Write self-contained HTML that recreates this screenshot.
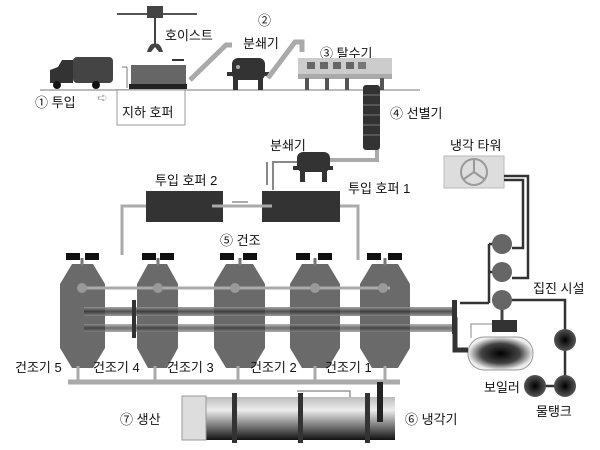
<!DOCTYPE html>
<html><head><meta charset="utf-8"><style>
html,body{margin:0;padding:0;background:#fff;width:600px;height:450px;overflow:hidden}
svg text{font-family:"Liberation Sans","Noto Sans CJK KR",sans-serif;font-size:13px;fill:#111}
</style></head><body>
<svg width="600" height="450" viewBox="0 0 600 450" xmlns="http://www.w3.org/2000/svg">
<defs>
<radialGradient id="boil" cx="0.5" cy="0.5" r="0.5"><stop offset="0" stop-color="#000"/><stop offset="0.6" stop-color="#444"/><stop offset="1" stop-color="#eee"/></radialGradient>
<radialGradient id="bc" cx="0.5" cy="0.5" r="0.5"><stop offset="0" stop-color="#000"/><stop offset="1" stop-color="#555"/></radialGradient>
<linearGradient id="cyl" x1="0" y1="0" x2="0" y2="1"><stop offset="0" stop-color="#bbb"/><stop offset="0.3" stop-color="#eee"/><stop offset="1" stop-color="#111"/></linearGradient>
<linearGradient id="pipeg" x1="0" y1="0" x2="0" y2="1"><stop offset="0" stop-color="#999"/><stop offset="0.5" stop-color="#333"/><stop offset="1" stop-color="#888"/></linearGradient>
</defs>
<!-- hoist -->
<line x1="117" y1="14" x2="197" y2="14" stroke="#555" stroke-width="2"/>
<rect x="147" y="6" width="16" height="12" fill="#444"/>
<line x1="155" y1="18" x2="155" y2="44" stroke="#444" stroke-width="2"/>
<path d="M147 52 Q150 42 155 44 Q160 42 163 52 L159 52 L155 47 L151 52Z" fill="#444"/>
<text x="165" y="40">호이스트</text>
<line x1="40" y1="90" x2="420" y2="90" stroke="#bbb" stroke-width="2"/>
<!-- truck -->
<rect x="73" y="57" width="40" height="26" rx="4" fill="#444"/>
<path d="M50 83 L50 70 L58 67 L62 60 L73 60 L73 83Z" fill="#333"/>
<circle cx="57" cy="85" r="4" fill="#111"/><circle cx="96" cy="85" r="4" fill="#111"/>
<line x1="122" y1="67" x2="127" y2="67" stroke="#777"/><line x1="127" y1="67" x2="127" y2="88" stroke="#777"/>
<text x="35" y="107">① 투입</text>
<text x="97" y="102" style="fill:#aaa">➪</text>
<rect x="117" y="90" width="68" height="35" fill="#fff" stroke="#999"/>
<text x="122" y="117">지하 호퍼</text>
<rect x="131" y="65" width="55" height="20" fill="#666"/>
<rect x="129" y="84" width="58" height="5" fill="#222"/>
<line x1="172" y1="60" x2="184" y2="60" stroke="#333" stroke-width="2"/>
<path d="M190 80 L226 45 L232 45" stroke="#aaa" stroke-width="5" fill="none"/>
<text x="258" y="25">②</text>
<text x="243" y="48">분쇄기</text>
<rect x="232" y="58" width="33" height="22" rx="6" fill="#333"/>
<rect x="227" y="72" width="42" height="4" fill="#333"/>
<rect x="233" y="76" width="5" height="14" fill="#333"/><rect x="258" y="76" width="5" height="14" fill="#333"/>
<circle cx="238" cy="67" r="2" fill="#aaa"/>
<path d="M268 78 L295 42 L302 42 L302 52" stroke="#aaa" stroke-width="5" fill="none"/>
<text x="320" y="58">③ 탈수기</text>
<rect x="298" y="58" width="94" height="20" fill="#ccc"/>
<rect x="307" y="62" width="8" height="7" fill="#666"/><rect x="320" y="62" width="8" height="7" fill="#666"/><rect x="333" y="62" width="8" height="7" fill="#666"/><rect x="346" y="62" width="8" height="7" fill="#666"/><rect x="358" y="62" width="8" height="7" fill="#777"/>
<rect x="298" y="74" width="94" height="5" fill="#aaa"/>
<rect x="305" y="78" width="4" height="12" fill="#555"/><rect x="325" y="78" width="4" height="12" fill="#555"/><rect x="345" y="78" width="4" height="12" fill="#555"/><rect x="380" y="78" width="4" height="12" fill="#555"/>
<rect x="363" y="85" width="17" height="65" rx="3" fill="#333"/>
<g stroke="#777" stroke-width="1"><line x1="363" y1="95" x2="380" y2="95"/><line x1="363" y1="105" x2="380" y2="105"/><line x1="363" y1="115" x2="380" y2="115"/><line x1="363" y1="125" x2="380" y2="125"/><line x1="363" y1="135" x2="380" y2="135"/></g>
<text x="390" y="118">④ 선별기</text>
<path d="M377 150 L377 160 L322 160 L322 152" stroke="#aaa" stroke-width="4" fill="none"/>
<text x="270" y="150">분쇄기</text>
<rect x="297" y="152" width="33" height="20" rx="6" fill="#333"/>
<rect x="293" y="166" width="40" height="4" fill="#333"/>
<rect x="300" y="170" width="5" height="12" fill="#333"/><rect x="322" y="170" width="5" height="12" fill="#333"/>
<path d="M297 162 L273 162 L273 190 M267 162 L267 185" stroke="#888" stroke-width="2" fill="none"/>
<text x="155" y="185">투입 호퍼 2</text>
<rect x="146" y="191" width="77" height="31" fill="#333"/>
<rect x="262" y="191" width="78" height="31" fill="#333"/>
<line x1="212" y1="206" x2="272" y2="206" stroke="#aaa" stroke-width="3"/>
<line x1="232" y1="202" x2="248" y2="202" stroke="#555" stroke-width="1"/>
<text x="348" y="193">투입 호퍼 1</text>
<path d="M146 206 L122 206 L122 255" stroke="#aaa" stroke-width="3" fill="none"/>
<path d="M340 206 L358 206 L358 260" stroke="#aaa" stroke-width="3" fill="none"/>
<text x="220" y="245">⑤ 건조</text>
<text x="450" y="150">냉각 타워</text>
<rect x="444" y="156" width="60" height="32" fill="#ddd" stroke="#bbb"/>
<circle cx="474" cy="172" r="13" fill="none" stroke="#999" stroke-width="2"/>
<path d="M474 172 L474 160 M474 172 L464 179 M474 172 L484 179" stroke="#999" stroke-width="2"/>
<path d="M504 176 L528 176 L528 278 L512 278 M504 180 L523 180 L523 248 L512 248" stroke="#333" stroke-width="2.5" fill="none"/>
<path d="M489 244 L489 303 M489 244 L494 244 M489 272 L494 272 M460 303 L489 303" stroke="#333" stroke-width="2.5" fill="none"/>
<circle cx="502" cy="244" r="10" fill="#666"/><circle cx="502" cy="272" r="10" fill="#666"/><circle cx="502" cy="300" r="10" fill="#666"/>
<text x="533" y="293">집진 시설</text>
<path d="M512 300 L565 300 L565 386 L535 386" stroke="#333" stroke-width="2.5" fill="none"/>
<line x1="502" y1="310" x2="502" y2="325" stroke="#444" stroke-width="3"/>
<rect x="492" y="320" width="25" height="12" fill="#333"/>
<path d="M471 338 L471 324 L492 324" stroke="#888" stroke-width="1" fill="none"/>
<rect x="468" y="337" width="65" height="33" rx="16" fill="url(#boil)" stroke="#999"/>
<path d="M455 317 L455 350 L468 350" stroke="#333" stroke-width="5" fill="none"/>
<circle cx="565" cy="340" r="11" fill="url(#bc)"/>
<circle cx="535" cy="386" r="11" fill="url(#bc)"/><circle cx="565" cy="386" r="11" fill="url(#bc)"/>
<text x="484" y="392">보일러</text>
<text x="536" y="416">물탱크</text>
<!-- dryers (tapered vessels) -->
<g fill="#6a6a6a">
<path d="M72 264 L93 264 L105 284 L105 348 L93 368 L72 368 L60 348 L60 284Z"/>
<path d="M148 264 L167 264 L178 284 L178 348 L167 368 L148 368 L137 348 L137 284Z"/>
<path d="M226 264 L253 264 L265 284 L265 348 L253 368 L226 368 L214 348 L214 284Z"/>
<path d="M302 264 L328 264 L340 284 L340 348 L328 368 L302 368 L290 348 L290 284Z"/>
<path d="M372 264 L398 264 L410 284 L410 348 L398 368 L372 368 L360 348 L360 284Z"/>
</g>
<g fill="#111">
<rect x="66" y="253" width="14" height="7"/><rect x="85" y="253" width="14" height="7"/>
<rect x="142" y="253" width="14" height="7"/><rect x="160" y="253" width="14" height="7"/>
<rect x="220" y="253" width="14" height="7"/><rect x="243" y="253" width="14" height="7"/>
<rect x="296" y="253" width="14" height="7"/><rect x="318" y="253" width="14" height="7"/>
<rect x="367" y="253" width="14" height="7"/><rect x="388" y="253" width="14" height="7"/>
</g>
<g stroke="#777" stroke-width="3"><line x1="82" y1="258" x2="82" y2="266"/><line x1="158" y1="258" x2="158" y2="266"/><line x1="240" y1="258" x2="240" y2="266"/><line x1="315" y1="258" x2="315" y2="266"/><line x1="385" y1="258" x2="385" y2="266"/></g>
<line x1="82" y1="288" x2="390" y2="288" stroke="#aaa" stroke-width="3"/>
<g fill="#999"><circle cx="82" cy="288" r="5"/><circle cx="158" cy="288" r="5"/><circle cx="235" cy="288" r="5"/><circle cx="315" cy="288" r="5"/><circle cx="383" cy="288" r="5"/></g>
<rect x="84" y="307" width="372" height="9" fill="url(#pipeg)" opacity="0.85"/>
<rect x="84" y="324" width="372" height="8" fill="url(#pipeg)" opacity="0.7"/>
<rect x="132" y="300" width="4" height="38" fill="#333"/>
<rect x="452" y="300" width="5" height="20" fill="#333"/>
<rect x="452" y="320" width="5" height="14" fill="#333"/>
<g stroke="#aaa" stroke-width="3"><line x1="78" y1="366" x2="78" y2="382"/><line x1="155" y1="366" x2="155" y2="382"/><line x1="238" y1="366" x2="238" y2="382"/><line x1="315" y1="366" x2="315" y2="382"/><line x1="385" y1="366" x2="385" y2="382"/></g>
<line x1="68" y1="382" x2="400" y2="382" stroke="#aaa" stroke-width="5"/>
<text x="15" y="372">건조기 5</text>
<text x="93" y="372">건조기 4</text>
<text x="167" y="372">건조기 3</text>
<text x="250" y="372">건조기 2</text>
<text x="325" y="372">건조기 1</text>
<rect x="200" y="397" width="195" height="43" fill="url(#cyl)"/>
<rect x="182" y="396" width="24" height="44" fill="#ddd" stroke="#999"/>
<rect x="232" y="393" width="5" height="50" fill="#333"/>
<rect x="298" y="393" width="5" height="50" fill="#333"/>
<rect x="365" y="393" width="5" height="50" fill="#333"/>
<path d="M297 391 L350 391 L350 397" stroke="#666" stroke-width="1" fill="none"/>
<rect x="377" y="382" width="6" height="40" fill="#222"/>
<text x="120" y="424">⑦ 생산</text>
<text x="405" y="424">⑥ 냉각기</text>
</svg>
</body></html>
